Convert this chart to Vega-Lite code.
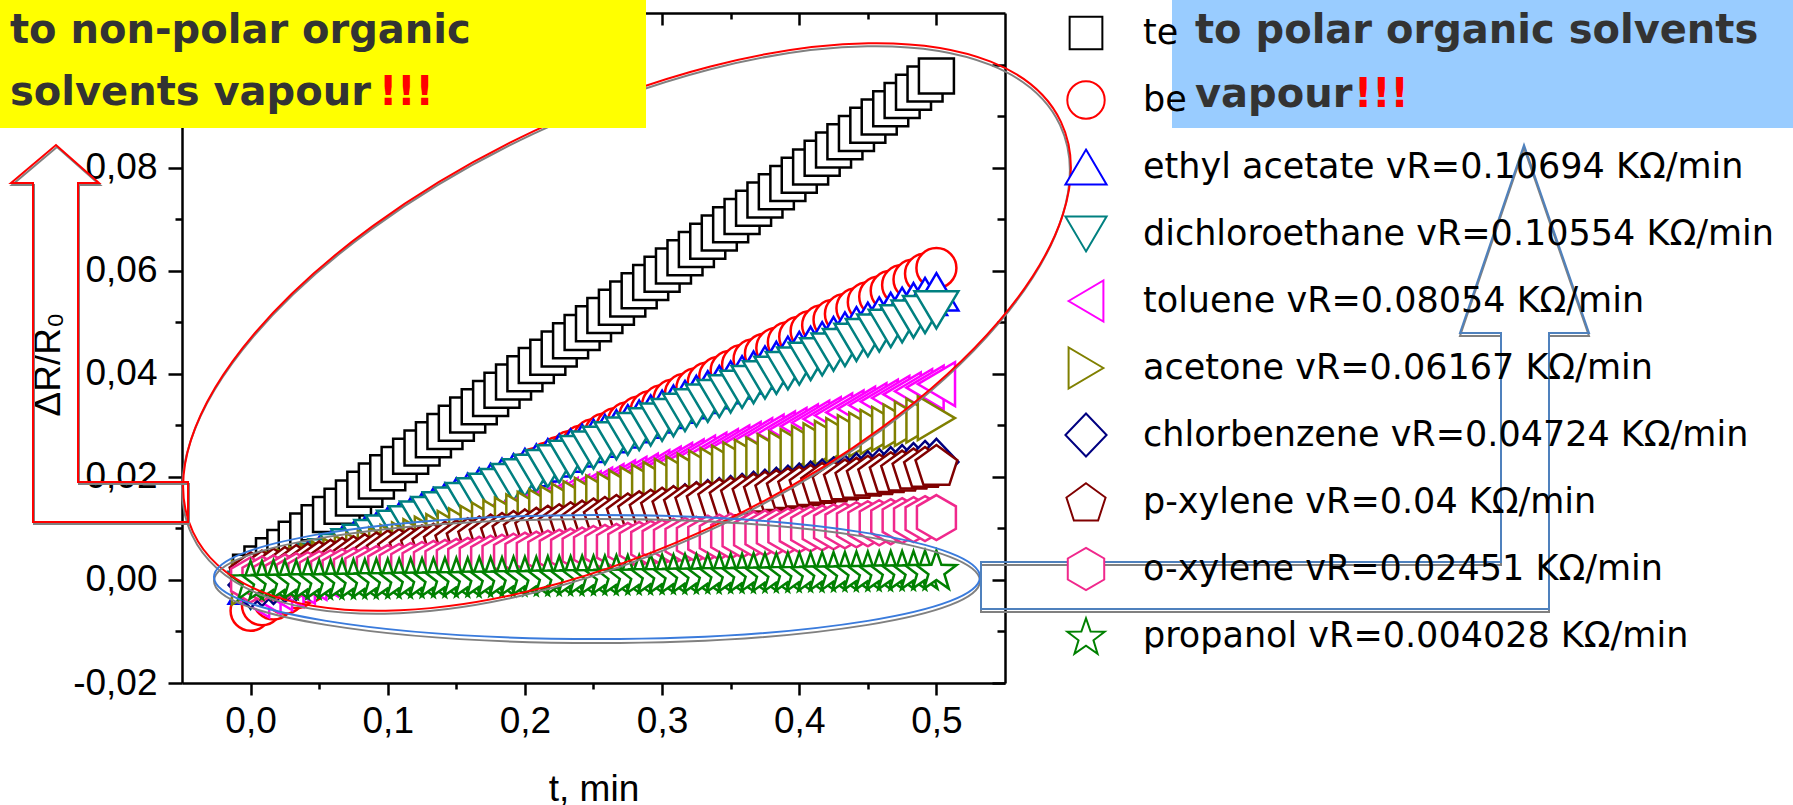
{
"$schema":"https://vega.github.io/schema/vega-lite/v6.json",
"autosize":{"type":"none"},
"width":823,"height":670,
"padding":{"left":182,"top":13,"right":788,"bottom":122},
"background":"white",
"config":{"view":{"stroke":null},"font":"Liberation Sans"},
"data":{"values":[{}]},
"datasets":{"pts":[
{"t":0,"s":"a","v":0.0015},{"t":0.0083,"s":"a","v":0.0031},{"t":0.0167,"s":"a","v":0.0047},{"t":0.025,"s":"a","v":0.0063},{"t":0.0333,"s":"a","v":0.0079},{"t":0.0417,"s":"a","v":0.0095},{"t":0.05,"s":"a","v":0.0111},{"t":0.0583,"s":"a","v":0.0127},{"t":0.0667,"s":"a","v":0.0143},{"t":0.075,"s":"a","v":0.0159},{"t":0.0833,"s":"a","v":0.0176},{"t":0.0917,"s":"a","v":0.0192},{"t":0.1,"s":"a","v":0.0208},{"t":0.1083,"s":"a","v":0.0224},{"t":0.1167,"s":"a","v":0.024},{"t":0.125,"s":"a","v":0.0256},{"t":0.1333,"s":"a","v":0.0272},{"t":0.1417,"s":"a","v":0.0288},{"t":0.15,"s":"a","v":0.0304},{"t":0.1583,"s":"a","v":0.032},{"t":0.1667,"s":"a","v":0.0336},{"t":0.175,"s":"a","v":0.0352},{"t":0.1833,"s":"a","v":0.0368},{"t":0.1917,"s":"a","v":0.0384},{"t":0.2,"s":"a","v":0.04},{"t":0.2083,"s":"a","v":0.0416},{"t":0.2167,"s":"a","v":0.0432},{"t":0.225,"s":"a","v":0.0448},{"t":0.2333,"s":"a","v":0.0464},{"t":0.2417,"s":"a","v":0.048},{"t":0.25,"s":"a","v":0.0497},{"t":0.2583,"s":"a","v":0.0513},{"t":0.2667,"s":"a","v":0.0529},{"t":0.275,"s":"a","v":0.0545},{"t":0.2833,"s":"a","v":0.0561},{"t":0.2917,"s":"a","v":0.0577},{"t":0.3,"s":"a","v":0.0593},{"t":0.3083,"s":"a","v":0.0609},{"t":0.3167,"s":"a","v":0.0625},{"t":0.325,"s":"a","v":0.0641},{"t":0.3333,"s":"a","v":0.0657},{"t":0.3417,"s":"a","v":0.0673},{"t":0.35,"s":"a","v":0.0689},{"t":0.3583,"s":"a","v":0.0705},{"t":0.3667,"s":"a","v":0.0721},{"t":0.375,"s":"a","v":0.0737},{"t":0.3833,"s":"a","v":0.0753},{"t":0.3917,"s":"a","v":0.0769},{"t":0.4,"s":"a","v":0.0785},{"t":0.4083,"s":"a","v":0.0801},{"t":0.4167,"s":"a","v":0.0818},{"t":0.425,"s":"a","v":0.0834},{"t":0.4333,"s":"a","v":0.085},{"t":0.4417,"s":"a","v":0.0866},{"t":0.45,"s":"a","v":0.0882},{"t":0.4583,"s":"a","v":0.0898},{"t":0.4667,"s":"a","v":0.0914},{"t":0.475,"s":"a","v":0.093},{"t":0.4833,"s":"a","v":0.0946},{"t":0.4917,"s":"a","v":0.0962},{"t":0.5,"s":"a","v":0.0978},
{"t":0,"s":"b","v":-0.006},{"t":0.0083,"s":"b","v":-0.0049},{"t":0.0167,"s":"b","v":-0.0038},{"t":0.025,"s":"b","v":-0.0027},{"t":0.0333,"s":"b","v":-0.0016},{"t":0.0417,"s":"b","v":-0.0005},{"t":0.05,"s":"b","v":0.0006},{"t":0.0583,"s":"b","v":0.0018},{"t":0.0667,"s":"b","v":0.0029},{"t":0.075,"s":"b","v":0.004},{"t":0.0833,"s":"b","v":0.0051},{"t":0.0917,"s":"b","v":0.0062},{"t":0.1,"s":"b","v":0.0073},{"t":0.1083,"s":"b","v":0.0084},{"t":0.1167,"s":"b","v":0.0095},{"t":0.125,"s":"b","v":0.0106},{"t":0.1333,"s":"b","v":0.0117},{"t":0.1417,"s":"b","v":0.0128},{"t":0.15,"s":"b","v":0.014},{"t":0.1583,"s":"b","v":0.0151},{"t":0.1667,"s":"b","v":0.0162},{"t":0.175,"s":"b","v":0.0173},{"t":0.1833,"s":"b","v":0.0184},{"t":0.1917,"s":"b","v":0.0195},{"t":0.2,"s":"b","v":0.0206},{"t":0.2083,"s":"b","v":0.0217},{"t":0.2167,"s":"b","v":0.0228},{"t":0.225,"s":"b","v":0.0239},{"t":0.2333,"s":"b","v":0.025},{"t":0.2417,"s":"b","v":0.0261},{"t":0.25,"s":"b","v":0.0273},{"t":0.2583,"s":"b","v":0.0284},{"t":0.2667,"s":"b","v":0.0295},{"t":0.275,"s":"b","v":0.0306},{"t":0.2833,"s":"b","v":0.0317},{"t":0.2917,"s":"b","v":0.0328},{"t":0.3,"s":"b","v":0.0339},{"t":0.3083,"s":"b","v":0.035},{"t":0.3167,"s":"b","v":0.0361},{"t":0.325,"s":"b","v":0.0372},{"t":0.3333,"s":"b","v":0.0383},{"t":0.3417,"s":"b","v":0.0394},{"t":0.35,"s":"b","v":0.0406},{"t":0.3583,"s":"b","v":0.0417},{"t":0.3667,"s":"b","v":0.0428},{"t":0.375,"s":"b","v":0.0439},{"t":0.3833,"s":"b","v":0.045},{"t":0.3917,"s":"b","v":0.0461},{"t":0.4,"s":"b","v":0.0472},{"t":0.4083,"s":"b","v":0.0483},{"t":0.4167,"s":"b","v":0.0494},{"t":0.425,"s":"b","v":0.0505},{"t":0.4333,"s":"b","v":0.0516},{"t":0.4417,"s":"b","v":0.0527},{"t":0.45,"s":"b","v":0.0539},{"t":0.4583,"s":"b","v":0.055},{"t":0.4667,"s":"b","v":0.0561},{"t":0.475,"s":"b","v":0.0572},{"t":0.4833,"s":"b","v":0.0583},{"t":0.4917,"s":"b","v":0.0594},{"t":0.5,"s":"b","v":0.0605},
{"t":0,"s":"c","v":-0.001},{"t":0.0083,"s":"c","v":-0.0001},{"t":0.0167,"s":"c","v":0.0009},{"t":0.025,"s":"c","v":0.0018},{"t":0.0333,"s":"c","v":0.0028},{"t":0.0417,"s":"c","v":0.0037},{"t":0.05,"s":"c","v":0.0047},{"t":0.0583,"s":"c","v":0.0056},{"t":0.0667,"s":"c","v":0.0066},{"t":0.075,"s":"c","v":0.0075},{"t":0.0833,"s":"c","v":0.0085},{"t":0.0917,"s":"c","v":0.0094},{"t":0.1,"s":"c","v":0.0104},{"t":0.1083,"s":"c","v":0.0113},{"t":0.1167,"s":"c","v":0.0123},{"t":0.125,"s":"c","v":0.0132},{"t":0.1333,"s":"c","v":0.0142},{"t":0.1417,"s":"c","v":0.0151},{"t":0.15,"s":"c","v":0.0161},{"t":0.1583,"s":"c","v":0.017},{"t":0.1667,"s":"c","v":0.018},{"t":0.175,"s":"c","v":0.0189},{"t":0.1833,"s":"c","v":0.0199},{"t":0.1917,"s":"c","v":0.0208},{"t":0.2,"s":"c","v":0.0218},{"t":0.2083,"s":"c","v":0.0227},{"t":0.2167,"s":"c","v":0.0237},{"t":0.225,"s":"c","v":0.0246},{"t":0.2333,"s":"c","v":0.0256},{"t":0.2417,"s":"c","v":0.0265},{"t":0.25,"s":"c","v":0.0275},{"t":0.2583,"s":"c","v":0.0284},{"t":0.2667,"s":"c","v":0.0293},{"t":0.275,"s":"c","v":0.0303},{"t":0.2833,"s":"c","v":0.0312},{"t":0.2917,"s":"c","v":0.0322},{"t":0.3,"s":"c","v":0.0331},{"t":0.3083,"s":"c","v":0.0341},{"t":0.3167,"s":"c","v":0.035},{"t":0.325,"s":"c","v":0.036},{"t":0.3333,"s":"c","v":0.0369},{"t":0.3417,"s":"c","v":0.0379},{"t":0.35,"s":"c","v":0.0388},{"t":0.3583,"s":"c","v":0.0398},{"t":0.3667,"s":"c","v":0.0407},{"t":0.375,"s":"c","v":0.0417},{"t":0.3833,"s":"c","v":0.0426},{"t":0.3917,"s":"c","v":0.0436},{"t":0.4,"s":"c","v":0.0445},{"t":0.4083,"s":"c","v":0.0455},{"t":0.4167,"s":"c","v":0.0464},{"t":0.425,"s":"c","v":0.0474},{"t":0.4333,"s":"c","v":0.0483},{"t":0.4417,"s":"c","v":0.0493},{"t":0.45,"s":"c","v":0.0502},{"t":0.4583,"s":"c","v":0.0512},{"t":0.4667,"s":"c","v":0.0521},{"t":0.475,"s":"c","v":0.0531},{"t":0.4833,"s":"c","v":0.054},{"t":0.4917,"s":"c","v":0.055},{"t":0.5,"s":"c","v":0.0559},
{"t":0,"s":"d","v":-0.002},{"t":0.0083,"s":"d","v":-0.0011},{"t":0.0167,"s":"d","v":-0.0002},{"t":0.025,"s":"d","v":0.0007},{"t":0.0333,"s":"d","v":0.0016},{"t":0.0417,"s":"d","v":0.0025},{"t":0.05,"s":"d","v":0.0034},{"t":0.0583,"s":"d","v":0.0043},{"t":0.0667,"s":"d","v":0.0053},{"t":0.075,"s":"d","v":0.0062},{"t":0.0833,"s":"d","v":0.0071},{"t":0.0917,"s":"d","v":0.008},{"t":0.1,"s":"d","v":0.0089},{"t":0.1083,"s":"d","v":0.0098},{"t":0.1167,"s":"d","v":0.0107},{"t":0.125,"s":"d","v":0.0116},{"t":0.1333,"s":"d","v":0.0125},{"t":0.1417,"s":"d","v":0.0134},{"t":0.15,"s":"d","v":0.0143},{"t":0.1583,"s":"d","v":0.0152},{"t":0.1667,"s":"d","v":0.0161},{"t":0.175,"s":"d","v":0.017},{"t":0.1833,"s":"d","v":0.0179},{"t":0.1917,"s":"d","v":0.0189},{"t":0.2,"s":"d","v":0.0198},{"t":0.2083,"s":"d","v":0.0207},{"t":0.2167,"s":"d","v":0.0216},{"t":0.225,"s":"d","v":0.0225},{"t":0.2333,"s":"d","v":0.0234},{"t":0.2417,"s":"d","v":0.0243},{"t":0.25,"s":"d","v":0.0252},{"t":0.2583,"s":"d","v":0.0261},{"t":0.2667,"s":"d","v":0.027},{"t":0.275,"s":"d","v":0.0279},{"t":0.2833,"s":"d","v":0.0288},{"t":0.2917,"s":"d","v":0.0297},{"t":0.3,"s":"d","v":0.0306},{"t":0.3083,"s":"d","v":0.0315},{"t":0.3167,"s":"d","v":0.0325},{"t":0.325,"s":"d","v":0.0334},{"t":0.3333,"s":"d","v":0.0343},{"t":0.3417,"s":"d","v":0.0352},{"t":0.35,"s":"d","v":0.0361},{"t":0.3583,"s":"d","v":0.037},{"t":0.3667,"s":"d","v":0.0379},{"t":0.375,"s":"d","v":0.0388},{"t":0.3833,"s":"d","v":0.0397},{"t":0.3917,"s":"d","v":0.0406},{"t":0.4,"s":"d","v":0.0415},{"t":0.4083,"s":"d","v":0.0424},{"t":0.4167,"s":"d","v":0.0433},{"t":0.425,"s":"d","v":0.0442},{"t":0.4333,"s":"d","v":0.0451},{"t":0.4417,"s":"d","v":0.0461},{"t":0.45,"s":"d","v":0.047},{"t":0.4583,"s":"d","v":0.0479},{"t":0.4667,"s":"d","v":0.0488},{"t":0.475,"s":"d","v":0.0497},{"t":0.4833,"s":"d","v":0.0506},{"t":0.4917,"s":"d","v":0.0515},{"t":0.5,"s":"d","v":0.0524},
{"t":0,"s":"e","v":-0.003},{"t":0.0083,"s":"e","v":-0.0023},{"t":0.0167,"s":"e","v":-0.0016},{"t":0.025,"s":"e","v":-0.001},{"t":0.0333,"s":"e","v":-0.0003},{"t":0.0417,"s":"e","v":0.0004},{"t":0.05,"s":"e","v":0.0011},{"t":0.0583,"s":"e","v":0.0018},{"t":0.0667,"s":"e","v":0.0025},{"t":0.075,"s":"e","v":0.0032},{"t":0.0833,"s":"e","v":0.0038},{"t":0.0917,"s":"e","v":0.0045},{"t":0.1,"s":"e","v":0.0052},{"t":0.1083,"s":"e","v":0.0059},{"t":0.1167,"s":"e","v":0.0066},{"t":0.125,"s":"e","v":0.0073},{"t":0.1333,"s":"e","v":0.0079},{"t":0.1417,"s":"e","v":0.0086},{"t":0.15,"s":"e","v":0.0093},{"t":0.1583,"s":"e","v":0.01},{"t":0.1667,"s":"e","v":0.0107},{"t":0.175,"s":"e","v":0.0114},{"t":0.1833,"s":"e","v":0.012},{"t":0.1917,"s":"e","v":0.0127},{"t":0.2,"s":"e","v":0.0134},{"t":0.2083,"s":"e","v":0.0141},{"t":0.2167,"s":"e","v":0.0148},{"t":0.225,"s":"e","v":0.0155},{"t":0.2333,"s":"e","v":0.0161},{"t":0.2417,"s":"e","v":0.0168},{"t":0.25,"s":"e","v":0.0175},{"t":0.2583,"s":"e","v":0.0182},{"t":0.2667,"s":"e","v":0.0189},{"t":0.275,"s":"e","v":0.0196},{"t":0.2833,"s":"e","v":0.0202},{"t":0.2917,"s":"e","v":0.0209},{"t":0.3,"s":"e","v":0.0216},{"t":0.3083,"s":"e","v":0.0223},{"t":0.3167,"s":"e","v":0.023},{"t":0.325,"s":"e","v":0.0237},{"t":0.3333,"s":"e","v":0.0243},{"t":0.3417,"s":"e","v":0.025},{"t":0.35,"s":"e","v":0.0257},{"t":0.3583,"s":"e","v":0.0264},{"t":0.3667,"s":"e","v":0.0271},{"t":0.375,"s":"e","v":0.0278},{"t":0.3833,"s":"e","v":0.0284},{"t":0.3917,"s":"e","v":0.0291},{"t":0.4,"s":"e","v":0.0298},{"t":0.4083,"s":"e","v":0.0305},{"t":0.4167,"s":"e","v":0.0312},{"t":0.425,"s":"e","v":0.0319},{"t":0.4333,"s":"e","v":0.0325},{"t":0.4417,"s":"e","v":0.0332},{"t":0.45,"s":"e","v":0.0339},{"t":0.4583,"s":"e","v":0.0346},{"t":0.4667,"s":"e","v":0.0353},{"t":0.475,"s":"e","v":0.036},{"t":0.4833,"s":"e","v":0.0366},{"t":0.4917,"s":"e","v":0.0373},{"t":0.5,"s":"e","v":0.038},
{"t":0,"s":"f","v":-0.0005},{"t":0.0083,"s":"f","v":0},{"t":0.0167,"s":"f","v":0.0006},{"t":0.025,"s":"f","v":0.0011},{"t":0.0333,"s":"f","v":0.0016},{"t":0.0417,"s":"f","v":0.0022},{"t":0.05,"s":"f","v":0.0027},{"t":0.0583,"s":"f","v":0.0032},{"t":0.0667,"s":"f","v":0.0038},{"t":0.075,"s":"f","v":0.0043},{"t":0.0833,"s":"f","v":0.0048},{"t":0.0917,"s":"f","v":0.0053},{"t":0.1,"s":"f","v":0.0059},{"t":0.1083,"s":"f","v":0.0064},{"t":0.1167,"s":"f","v":0.0069},{"t":0.125,"s":"f","v":0.0075},{"t":0.1333,"s":"f","v":0.008},{"t":0.1417,"s":"f","v":0.0085},{"t":0.15,"s":"f","v":0.0091},{"t":0.1583,"s":"f","v":0.0096},{"t":0.1667,"s":"f","v":0.0101},{"t":0.175,"s":"f","v":0.0107},{"t":0.1833,"s":"f","v":0.0112},{"t":0.1917,"s":"f","v":0.0117},{"t":0.2,"s":"f","v":0.0123},{"t":0.2083,"s":"f","v":0.0128},{"t":0.2167,"s":"f","v":0.0133},{"t":0.225,"s":"f","v":0.0139},{"t":0.2333,"s":"f","v":0.0144},{"t":0.2417,"s":"f","v":0.0149},{"t":0.25,"s":"f","v":0.0155},{"t":0.2583,"s":"f","v":0.016},{"t":0.2667,"s":"f","v":0.0165},{"t":0.275,"s":"f","v":0.017},{"t":0.2833,"s":"f","v":0.0176},{"t":0.2917,"s":"f","v":0.0181},{"t":0.3,"s":"f","v":0.0186},{"t":0.3083,"s":"f","v":0.0192},{"t":0.3167,"s":"f","v":0.0197},{"t":0.325,"s":"f","v":0.0202},{"t":0.3333,"s":"f","v":0.0208},{"t":0.3417,"s":"f","v":0.0213},{"t":0.35,"s":"f","v":0.0218},{"t":0.3583,"s":"f","v":0.0224},{"t":0.3667,"s":"f","v":0.0229},{"t":0.375,"s":"f","v":0.0234},{"t":0.3833,"s":"f","v":0.024},{"t":0.3917,"s":"f","v":0.0245},{"t":0.4,"s":"f","v":0.025},{"t":0.4083,"s":"f","v":0.0256},{"t":0.4167,"s":"f","v":0.0261},{"t":0.425,"s":"f","v":0.0266},{"t":0.4333,"s":"f","v":0.0271},{"t":0.4417,"s":"f","v":0.0277},{"t":0.45,"s":"f","v":0.0282},{"t":0.4583,"s":"f","v":0.0287},{"t":0.4667,"s":"f","v":0.0293},{"t":0.475,"s":"f","v":0.0298},{"t":0.4833,"s":"f","v":0.0303},{"t":0.4917,"s":"f","v":0.0309},{"t":0.5,"s":"f","v":0.0314},
{"t":0,"s":"g","v":-0.001},{"t":0.0083,"s":"g","v":-0.0006},{"t":0.0167,"s":"g","v":-0.0002},{"t":0.025,"s":"g","v":0.0002},{"t":0.0333,"s":"g","v":0.0006},{"t":0.0417,"s":"g","v":0.001},{"t":0.05,"s":"g","v":0.0014},{"t":0.0583,"s":"g","v":0.0018},{"t":0.0667,"s":"g","v":0.0022},{"t":0.075,"s":"g","v":0.0026},{"t":0.0833,"s":"g","v":0.003},{"t":0.0917,"s":"g","v":0.0034},{"t":0.1,"s":"g","v":0.0038},{"t":0.1083,"s":"g","v":0.0042},{"t":0.1167,"s":"g","v":0.0046},{"t":0.125,"s":"g","v":0.005},{"t":0.1333,"s":"g","v":0.0054},{"t":0.1417,"s":"g","v":0.0058},{"t":0.15,"s":"g","v":0.0062},{"t":0.1583,"s":"g","v":0.0066},{"t":0.1667,"s":"g","v":0.007},{"t":0.175,"s":"g","v":0.0074},{"t":0.1833,"s":"g","v":0.0078},{"t":0.1917,"s":"g","v":0.0082},{"t":0.2,"s":"g","v":0.0086},{"t":0.2083,"s":"g","v":0.009},{"t":0.2167,"s":"g","v":0.0094},{"t":0.225,"s":"g","v":0.0098},{"t":0.2333,"s":"g","v":0.0102},{"t":0.2417,"s":"g","v":0.0106},{"t":0.25,"s":"g","v":0.011},{"t":0.2583,"s":"g","v":0.0113},{"t":0.2667,"s":"g","v":0.0117},{"t":0.275,"s":"g","v":0.0121},{"t":0.2833,"s":"g","v":0.0125},{"t":0.2917,"s":"g","v":0.0129},{"t":0.3,"s":"g","v":0.0133},{"t":0.3083,"s":"g","v":0.0137},{"t":0.3167,"s":"g","v":0.0141},{"t":0.325,"s":"g","v":0.0145},{"t":0.3333,"s":"g","v":0.0149},{"t":0.3417,"s":"g","v":0.0153},{"t":0.35,"s":"g","v":0.0157},{"t":0.3583,"s":"g","v":0.0161},{"t":0.3667,"s":"g","v":0.0165},{"t":0.375,"s":"g","v":0.0169},{"t":0.3833,"s":"g","v":0.0173},{"t":0.3917,"s":"g","v":0.0177},{"t":0.4,"s":"g","v":0.0181},{"t":0.4083,"s":"g","v":0.0185},{"t":0.4167,"s":"g","v":0.0189},{"t":0.425,"s":"g","v":0.0193},{"t":0.4333,"s":"g","v":0.0197},{"t":0.4417,"s":"g","v":0.0201},{"t":0.45,"s":"g","v":0.0205},{"t":0.4583,"s":"g","v":0.0209},{"t":0.4667,"s":"g","v":0.0213},{"t":0.475,"s":"g","v":0.0217},{"t":0.4833,"s":"g","v":0.0221},{"t":0.4917,"s":"g","v":0.0225},{"t":0.5,"s":"g","v":0.0229},
{"t":0,"s":"h","v":0.0015},{"t":0.0083,"s":"h","v":0.0018},{"t":0.0167,"s":"h","v":0.0022},{"t":0.025,"s":"h","v":0.0025},{"t":0.0333,"s":"h","v":0.0029},{"t":0.0417,"s":"h","v":0.0032},{"t":0.05,"s":"h","v":0.0036},{"t":0.0583,"s":"h","v":0.0039},{"t":0.0667,"s":"h","v":0.0043},{"t":0.075,"s":"h","v":0.0046},{"t":0.0833,"s":"h","v":0.005},{"t":0.0917,"s":"h","v":0.0053},{"t":0.1,"s":"h","v":0.0057},{"t":0.1083,"s":"h","v":0.006},{"t":0.1167,"s":"h","v":0.0063},{"t":0.125,"s":"h","v":0.0067},{"t":0.1333,"s":"h","v":0.007},{"t":0.1417,"s":"h","v":0.0074},{"t":0.15,"s":"h","v":0.0077},{"t":0.1583,"s":"h","v":0.0081},{"t":0.1667,"s":"h","v":0.0084},{"t":0.175,"s":"h","v":0.0088},{"t":0.1833,"s":"h","v":0.0091},{"t":0.1917,"s":"h","v":0.0095},{"t":0.2,"s":"h","v":0.0098},{"t":0.2083,"s":"h","v":0.0101},{"t":0.2167,"s":"h","v":0.0105},{"t":0.225,"s":"h","v":0.0108},{"t":0.2333,"s":"h","v":0.0112},{"t":0.2417,"s":"h","v":0.0115},{"t":0.25,"s":"h","v":0.0119},{"t":0.2583,"s":"h","v":0.0122},{"t":0.2667,"s":"h","v":0.0126},{"t":0.275,"s":"h","v":0.0129},{"t":0.2833,"s":"h","v":0.0133},{"t":0.2917,"s":"h","v":0.0136},{"t":0.3,"s":"h","v":0.014},{"t":0.3083,"s":"h","v":0.0143},{"t":0.3167,"s":"h","v":0.0146},{"t":0.325,"s":"h","v":0.015},{"t":0.3333,"s":"h","v":0.0153},{"t":0.3417,"s":"h","v":0.0157},{"t":0.35,"s":"h","v":0.016},{"t":0.3583,"s":"h","v":0.0164},{"t":0.3667,"s":"h","v":0.0167},{"t":0.375,"s":"h","v":0.0171},{"t":0.3833,"s":"h","v":0.0174},{"t":0.3917,"s":"h","v":0.0178},{"t":0.4,"s":"h","v":0.0181},{"t":0.4083,"s":"h","v":0.0184},{"t":0.4167,"s":"h","v":0.0188},{"t":0.425,"s":"h","v":0.0191},{"t":0.4333,"s":"h","v":0.0195},{"t":0.4417,"s":"h","v":0.0198},{"t":0.45,"s":"h","v":0.0202},{"t":0.4583,"s":"h","v":0.0205},{"t":0.4667,"s":"h","v":0.0209},{"t":0.475,"s":"h","v":0.0212},{"t":0.4833,"s":"h","v":0.0216},{"t":0.4917,"s":"h","v":0.0219},{"t":0.5,"s":"h","v":0.0223},
{"t":0,"s":"i","v":0},{"t":0.0083,"s":"i","v":0.0002},{"t":0.0167,"s":"i","v":0.0004},{"t":0.025,"s":"i","v":0.0006},{"t":0.0333,"s":"i","v":0.0008},{"t":0.0417,"s":"i","v":0.001},{"t":0.05,"s":"i","v":0.0012},{"t":0.0583,"s":"i","v":0.0014},{"t":0.0667,"s":"i","v":0.0016},{"t":0.075,"s":"i","v":0.0018},{"t":0.0833,"s":"i","v":0.002},{"t":0.0917,"s":"i","v":0.0022},{"t":0.1,"s":"i","v":0.0024},{"t":0.1083,"s":"i","v":0.0026},{"t":0.1167,"s":"i","v":0.0028},{"t":0.125,"s":"i","v":0.003},{"t":0.1333,"s":"i","v":0.0032},{"t":0.1417,"s":"i","v":0.0034},{"t":0.15,"s":"i","v":0.0036},{"t":0.1583,"s":"i","v":0.0038},{"t":0.1667,"s":"i","v":0.004},{"t":0.175,"s":"i","v":0.0042},{"t":0.1833,"s":"i","v":0.0044},{"t":0.1917,"s":"i","v":0.0046},{"t":0.2,"s":"i","v":0.0048},{"t":0.2083,"s":"i","v":0.005},{"t":0.2167,"s":"i","v":0.0052},{"t":0.225,"s":"i","v":0.0054},{"t":0.2333,"s":"i","v":0.0056},{"t":0.2417,"s":"i","v":0.0058},{"t":0.25,"s":"i","v":0.0061},{"t":0.2583,"s":"i","v":0.0063},{"t":0.2667,"s":"i","v":0.0065},{"t":0.275,"s":"i","v":0.0067},{"t":0.2833,"s":"i","v":0.0069},{"t":0.2917,"s":"i","v":0.0071},{"t":0.3,"s":"i","v":0.0073},{"t":0.3083,"s":"i","v":0.0075},{"t":0.3167,"s":"i","v":0.0077},{"t":0.325,"s":"i","v":0.0079},{"t":0.3333,"s":"i","v":0.0081},{"t":0.3417,"s":"i","v":0.0083},{"t":0.35,"s":"i","v":0.0085},{"t":0.3583,"s":"i","v":0.0087},{"t":0.3667,"s":"i","v":0.0089},{"t":0.375,"s":"i","v":0.0091},{"t":0.3833,"s":"i","v":0.0093},{"t":0.3917,"s":"i","v":0.0095},{"t":0.4,"s":"i","v":0.0097},{"t":0.4083,"s":"i","v":0.0099},{"t":0.4167,"s":"i","v":0.0101},{"t":0.425,"s":"i","v":0.0103},{"t":0.4333,"s":"i","v":0.0105},{"t":0.4417,"s":"i","v":0.0107},{"t":0.45,"s":"i","v":0.0109},{"t":0.4583,"s":"i","v":0.0111},{"t":0.4667,"s":"i","v":0.0113},{"t":0.475,"s":"i","v":0.0115},{"t":0.4833,"s":"i","v":0.0117},{"t":0.4917,"s":"i","v":0.0119},{"t":0.5,"s":"i","v":0.0121},
{"t":0,"s":"j","v":0},{"t":0.0083,"s":"j","v":0},{"t":0.0167,"s":"j","v":0.0001},{"t":0.025,"s":"j","v":0.0001},{"t":0.0333,"s":"j","v":0.0001},{"t":0.0417,"s":"j","v":0.0002},{"t":0.05,"s":"j","v":0.0002},{"t":0.0583,"s":"j","v":0.0002},{"t":0.0667,"s":"j","v":0.0003},{"t":0.075,"s":"j","v":0.0003},{"t":0.0833,"s":"j","v":0.0003},{"t":0.0917,"s":"j","v":0.0004},{"t":0.1,"s":"j","v":0.0004},{"t":0.1083,"s":"j","v":0.0004},{"t":0.1167,"s":"j","v":0.0005},{"t":0.125,"s":"j","v":0.0005},{"t":0.1333,"s":"j","v":0.0005},{"t":0.1417,"s":"j","v":0.0006},{"t":0.15,"s":"j","v":0.0006},{"t":0.1583,"s":"j","v":0.0006},{"t":0.1667,"s":"j","v":0.0007},{"t":0.175,"s":"j","v":0.0007},{"t":0.1833,"s":"j","v":0.0007},{"t":0.1917,"s":"j","v":0.0008},{"t":0.2,"s":"j","v":0.0008},{"t":0.2083,"s":"j","v":0.0008},{"t":0.2167,"s":"j","v":0.0009},{"t":0.225,"s":"j","v":0.0009},{"t":0.2333,"s":"j","v":0.0009},{"t":0.2417,"s":"j","v":0.001},{"t":0.25,"s":"j","v":0.001},{"t":0.2583,"s":"j","v":0.001},{"t":0.2667,"s":"j","v":0.0011},{"t":0.275,"s":"j","v":0.0011},{"t":0.2833,"s":"j","v":0.0011},{"t":0.2917,"s":"j","v":0.0012},{"t":0.3,"s":"j","v":0.0012},{"t":0.3083,"s":"j","v":0.0012},{"t":0.3167,"s":"j","v":0.0013},{"t":0.325,"s":"j","v":0.0013},{"t":0.3333,"s":"j","v":0.0013},{"t":0.3417,"s":"j","v":0.0014},{"t":0.35,"s":"j","v":0.0014},{"t":0.3583,"s":"j","v":0.0014},{"t":0.3667,"s":"j","v":0.0015},{"t":0.375,"s":"j","v":0.0015},{"t":0.3833,"s":"j","v":0.0015},{"t":0.3917,"s":"j","v":0.0016},{"t":0.4,"s":"j","v":0.0016},{"t":0.4083,"s":"j","v":0.0016},{"t":0.4167,"s":"j","v":0.0017},{"t":0.425,"s":"j","v":0.0017},{"t":0.4333,"s":"j","v":0.0017},{"t":0.4417,"s":"j","v":0.0018},{"t":0.45,"s":"j","v":0.0018},{"t":0.4583,"s":"j","v":0.0018},{"t":0.4667,"s":"j","v":0.0019},{"t":0.475,"s":"j","v":0.0019},{"t":0.4833,"s":"j","v":0.0019},{"t":0.4917,"s":"j","v":0.002},{"t":0.5,"s":"j","v":0.002}
]},
"layer":[
{"data":{"name":"pts"},
 "mark":{"type":"point","filled":false,"fill":"white","strokeWidth":2.5,"size":1600,"opacity":1},
 "encoding":{
  "x":{"field":"t","type":"quantitative","scale":{"domain":[-0.05,0.55],"nice":false,"zero":false},
   "axis":{"orient":"bottom","values":[0,0.1,0.2,0.3,0.4,0.5],"labelExpr":"replace(format(datum.value,'.1f'),'.',',')","labelFont":"Liberation Sans","labelFontSize":37,"labelColor":"black","labelPadding":8,"labelFlush":false,"labelOverlap":false,"tickSize":12,"tickWidth":2.5,"tickColor":"black","domainColor":"black","domainWidth":2.5,"grid":false,"title":"t, min","titleFont":"Liberation Sans","titleFontSize":37,"titleFontWeight":"normal","titleColor":"black","titleY":117,"titleBaseline":"alphabetic"}},
  "y":{"field":"v","type":"quantitative","scale":{"domain":[-0.02,0.11],"nice":false,"zero":false},
   "axis":{"orient":"left","values":[-0.02,0,0.02,0.04,0.06,0.08,0.1],"labelExpr":"replace(replace(format(datum.value,'.2f'),'.',','),'−','-')","labelFont":"Liberation Sans","labelFontSize":37,"labelColor":"black","labelPadding":11,"labelFlush":false,"labelOverlap":false,"tickSize":14,"tickWidth":2.5,"tickColor":"black","domainColor":"black","domainWidth":2.5,"grid":false,"title":"ΔR/R₀","titleFont":"Liberation Sans","titleFontSize":37,"titleFontWeight":"normal","titleColor":"black","titleAngle":270,"titleX":-134,"titleY":351,"titleAlign":"center","titleBaseline":"middle"}},
  "color":{"field":"s","type":"nominal",
   "scale":{"domain":["a","b","c","d","e","f","g","h","i","j"],"range":["#000000","#ff0000","#0000ff","#008080","#ff00ff","#808000","#000080","#800000","#f0288c","#008000"]},
   "legend":{"title":null,"orient":"none","legendX":884,"legendY":0,"padding":0,"gridAlign":"all","symbolSize":1400,"symbolStrokeWidth":2,"symbolFillColor":"white","symbolOffset":0,"labelFont":"DejaVu Sans","labelFontSize":35,"labelColor":"black","labelOffset":37,"rowPadding":15,"labelLimit":900,
    "labelExpr":"datum.value=='a'?'te':datum.value=='b'?'be':datum.value=='c'?'ethyl acetate vR=0.10694 KΩ/min':datum.value=='d'?'dichloroethane vR=0.10554 KΩ/min':datum.value=='e'?'toluene vR=0.08054 KΩ/min':datum.value=='f'?'acetone vR=0.06167 KΩ/min':datum.value=='g'?'chlorbenzene vR=0.04724 KΩ/min':datum.value=='h'?'p-xylene vR=0.04 KΩ/min':datum.value=='i'?'o-xylene vR=0.02451 KΩ/min':'propanol vR=0.004028 KΩ/min'"}},
  "shape":{"field":"s","type":"nominal",
   "scale":{"domain":["a","b","c","d","e","f","g","h","i","j"],"range":["M-0.875,-0.875L0.875,-0.875L0.875,0.875L-0.875,0.875Z","circle","M0,-0.93L1.1,0.93L-1.1,0.93Z","M0,0.93L1.1,-0.93L-1.1,-0.93Z","M-0.93,0L0.93,-1.1L0.93,1.1Z","M0.93,0L-0.93,-1.1L-0.93,1.1Z","M0,-1.15L1.1,0L0,1.15L-1.1,0Z","M0,-1L1.046,-0.24L0.647,0.99L-0.647,0.99L-1.046,-0.24Z","M0,-1.125L0.974,-0.5625L0.974,0.5625L0,1.125L-0.974,0.5625L-0.974,-0.5625Z","M0,-0.95L0.2469,-0.2398L0.9986,-0.2245L0.3994,0.2298L0.6172,0.9495L0,0.52L-0.6172,0.9495L-0.3994,0.2298L-0.9986,-0.2245L-0.2469,-0.2398Z"]},
   "legend":{"title":null,"orient":"none","legendX":884,"legendY":0,"padding":0,"gridAlign":"all","symbolSize":1400,"symbolStrokeWidth":2,"symbolFillColor":"white","symbolOffset":0,"labelFont":"DejaVu Sans","labelFontSize":35,"labelColor":"black","labelOffset":37,"rowPadding":15,"labelLimit":900,
    "labelExpr":"datum.value=='a'?'te':datum.value=='b'?'be':datum.value=='c'?'ethyl acetate vR=0.10694 KΩ/min':datum.value=='d'?'dichloroethane vR=0.10554 KΩ/min':datum.value=='e'?'toluene vR=0.08054 KΩ/min':datum.value=='f'?'acetone vR=0.06167 KΩ/min':datum.value=='g'?'chlorbenzene vR=0.04724 KΩ/min':datum.value=='h'?'p-xylene vR=0.04 KΩ/min':datum.value=='i'?'o-xylene vR=0.02451 KΩ/min':'propanol vR=0.004028 KΩ/min'"}}
 }},
{"mark":{"type":"point","shape":"M-1,0C-1,-0.2496,-0.5523,-0.452,0,-0.452C0.5523,-0.452,1,-0.2496,1,0C1,0.2496,0.5523,0.452,0,0.452C-0.5523,0.452,-1,0.2496,-1,0Z","size":921600,"angle":-25.3,"filled":false,"stroke":"#808080","strokeWidth":2,"opacity":1},
 "encoding":{
  "x":{"datum":0.273694,"type":"quantitative","axis":{"orient":"bottom","values":[0.05,0.15,0.25,0.35,0.45],"labels":false,"tickSize":6,"tickWidth":2.5,"tickColor":"black","domain":false,"grid":false,"title":null}},
  "y":{"datum":0.048493,"type":"quantitative","axis":{"orient":"left","values":[-0.01,0.01,0.03,0.05,0.07,0.09],"labels":false,"tickSize":7,"tickWidth":2.5,"tickColor":"black","domain":false,"grid":false,"title":null}}}},
{"mark":{"type":"point","shape":"M-1,0C-1,-0.2496,-0.5523,-0.452,0,-0.452C0.5523,-0.452,1,-0.2496,1,0C1,0.2496,0.5523,0.452,0,0.452C-0.5523,0.452,-1,0.2496,-1,0Z","size":921600,"angle":-25.3,"filled":false,"stroke":"#ff0000","strokeWidth":2,"opacity":1},
 "encoding":{
  "x":{"datum":0.274423,"type":"quantitative","axis":{"orient":"top","values":[0,0.1,0.2,0.3,0.4,0.5],"labels":false,"tickSize":-12,"tickWidth":2.5,"tickColor":"black","domainColor":"black","domainWidth":2.5,"grid":false,"title":null}},
  "y":{"datum":0.049075,"type":"quantitative","axis":{"orient":"right","values":[-0.02,0,0.02,0.04,0.06,0.08,0.1],"labels":false,"tickSize":-13,"tickWidth":2.5,"tickColor":"black","domainColor":"black","domainWidth":2.5,"grid":false,"title":null}}}},
{"mark":{"type":"point","shape":"M-1,0C-1,-0.0895,-0.5523,-0.162,0,-0.162C0.5523,-0.162,1,-0.0895,1,0C1,0.0895,0.5523,0.162,0,0.162C-0.5523,0.162,-1,0.0895,-1,0Z","size":586756,"filled":false,"stroke":"#808080","strokeWidth":2,"opacity":1},
 "encoding":{
  "x":{"datum":0.252552,"type":"quantitative","axis":{"orient":"top","values":[0.05,0.15,0.25,0.35,0.45],"labels":false,"tickSize":-6,"tickWidth":2.5,"tickColor":"black","domain":false,"grid":false,"title":null}},
  "y":{"datum":-0.000209,"type":"quantitative","axis":{"orient":"right","values":[-0.01,0.01,0.03,0.05,0.07,0.09],"labels":false,"tickSize":-8,"tickWidth":2.5,"tickColor":"black","domain":false,"grid":false,"title":null}}}},
{"mark":{"type":"point","shape":"M-1,0C-1,-0.0895,-0.5523,-0.162,0,-0.162C0.5523,-0.162,1,-0.0895,1,0C1,0.0895,0.5523,0.162,0,0.162C-0.5523,0.162,-1,0.0895,-1,0Z","size":586756,"filled":false,"stroke":"#3a7bdc","strokeWidth":2,"opacity":1},
 "encoding":{"x":{"datum":0.252552,"type":"quantitative","axis":null},"y":{"datum":0.000567,"type":"quantitative","axis":null}}},
{"mark":{"type":"point","shape":"M0.88,1.49L-0.22,1.49L-0.22,-1.5L-0.01,-1.5L-0.44,-1.88L-0.89,-1.5L-0.67,-1.5L-0.67,1.89L0.88,1.89Z","size":40000,"filled":false,"stroke":"#808080","strokeWidth":2,"opacity":1},
 "encoding":{"x":{"datum":-0.109053,"type":"quantitative","axis":null},"y":{"datum":0.047522,"type":"quantitative","axis":null}}},
{"mark":{"type":"point","shape":"M0.88,1.49L-0.22,1.49L-0.22,-1.5L-0.01,-1.5L-0.44,-1.88L-0.89,-1.5L-0.67,-1.5L-0.67,1.89L0.88,1.89Z","size":40000,"filled":false,"stroke":"#ff0000","strokeWidth":2,"opacity":1},
 "encoding":{"x":{"datum":-0.109781,"type":"quantitative","axis":null},"y":{"datum":0.04791,"type":"quantitative","axis":null}}},
{"mark":{"type":"point","shape":"M-3.04,1.85L2.16,1.85L2.16,-0.44L1.75,-0.44L2.39,-2.32L3.04,-0.44L2.64,-0.44L2.64,2.32L-3.04,2.32Z","size":40000,"filled":false,"stroke":"#808080","strokeWidth":2,"opacity":1},
 "encoding":{"x":{"datum":0.754131,"type":"quantitative","axis":null},"y":{"datum":0.038791,"type":"quantitative","axis":null}}},
{"mark":{"type":"point","shape":"M-3.04,1.85L2.16,1.85L2.16,-0.44L1.75,-0.44L2.39,-2.32L3.04,-0.44L2.64,-0.44L2.64,2.32L-3.04,2.32Z","size":40000,"filled":false,"stroke":"#4f81bd","strokeWidth":2,"opacity":1},
 "encoding":{"x":{"datum":0.754131,"type":"quantitative","axis":null},"y":{"datum":0.039373,"type":"quantitative","axis":null}}},
{"mark":{"type":"rect","fill":"#ffff00"},
 "encoding":{"x":{"datum":-0.182685,"type":"quantitative","axis":null},"x2":{"datum":0.288275},"y":{"datum":0.112522,"type":"quantitative","axis":null},"y2":{"datum":0.087687}}},
{"mark":{"type":"text","text":"to non-polar organic","align":"left","baseline":"alphabetic","font":"DejaVu Sans","fontWeight":"bold","fontSize":40,"fill":"#333333"},
 "encoding":{"x":{"datum":-0.175395,"type":"quantitative","axis":null},"y":{"datum":0.104179,"type":"quantitative","axis":null}}},
{"mark":{"type":"text","text":"solvents vapour","align":"left","baseline":"alphabetic","font":"DejaVu Sans","fontWeight":"bold","fontSize":40,"fill":"#333333"},
 "encoding":{"x":{"datum":-0.175395,"type":"quantitative","axis":null},"y":{"datum":0.092149,"type":"quantitative","axis":null}}},
{"mark":{"type":"text","text":"!!!","align":"left","baseline":"alphabetic","font":"DejaVu Sans","fontWeight":"bold","fontSize":40,"fill":"#ff0000"},
 "encoding":{"x":{"datum":0.093621,"type":"quantitative","axis":null},"y":{"datum":0.092149,"type":"quantitative","axis":null}}},
{"mark":{"type":"rect","fill":"#99ccff"},
 "encoding":{"x":{"datum":0.67175,"type":"quantitative","axis":null},"x2":{"datum":1.12448},"y":{"datum":0.112522,"type":"quantitative","axis":null},"y2":{"datum":0.087687}}},
{"mark":{"type":"text","text":"to polar organic solvents","align":"left","baseline":"alphabetic","font":"DejaVu Sans","fontWeight":"bold","fontSize":40,"fill":"#333333"},
 "encoding":{"x":{"datum":0.688518,"type":"quantitative","axis":null},"y":{"datum":0.104179,"type":"quantitative","axis":null}}},
{"mark":{"type":"text","text":"vapour","align":"left","baseline":"alphabetic","font":"DejaVu Sans","fontWeight":"bold","fontSize":40,"fill":"#333333"},
 "encoding":{"x":{"datum":0.688518,"type":"quantitative","axis":null},"y":{"datum":0.091761,"type":"quantitative","axis":null}}},
{"mark":{"type":"text","text":"!!!","align":"left","baseline":"alphabetic","font":"DejaVu Sans","fontWeight":"bold","fontSize":40,"fill":"#ff0000"},
 "encoding":{"x":{"datum":0.804435,"type":"quantitative","axis":null},"y":{"datum":0.091761,"type":"quantitative","axis":null}}}
],
"resolve":{"axis":{"x":"independent","y":"independent"}}
}
